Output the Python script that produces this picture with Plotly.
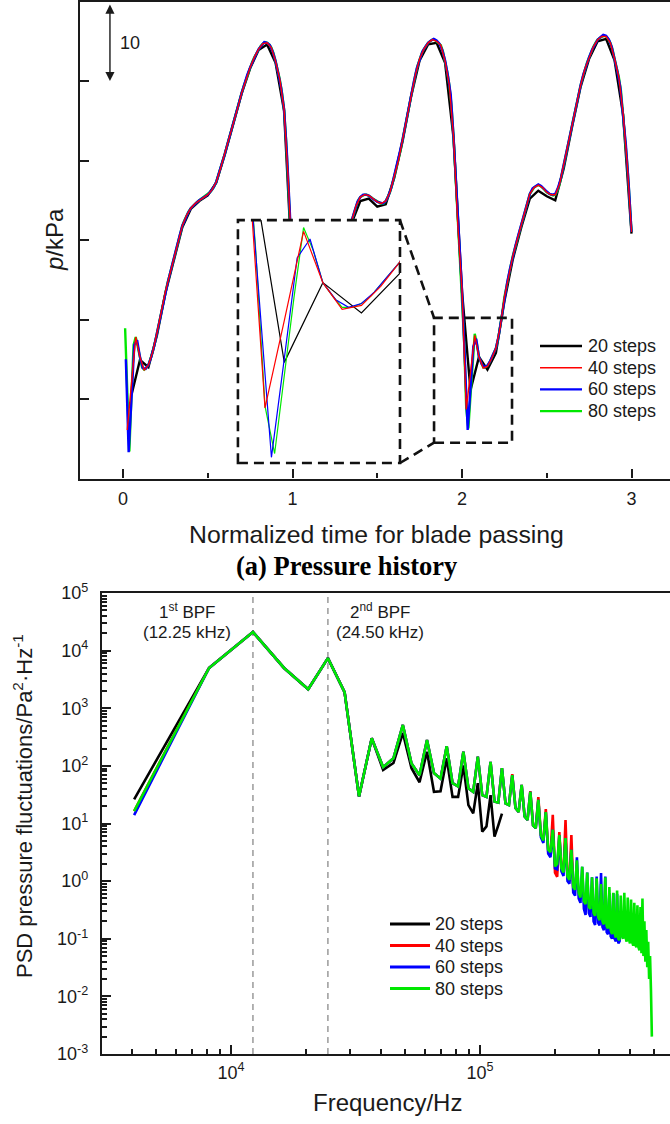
import plotly.graph_objects as go

# ------------------------------------------------------------------ data
SERIES = ["20 steps", "40 steps", "60 steps", "80 steps"]
STEPS = [20, 40, 60, 80]  # time steps per blade passing

# pressure history (kPa, relative level), sampled at k/steps, k = 1..3*steps
P_20 = [10.5, 14.9, 14.0, 18.0, 23.3, 27.6, 31.6, 33.9, 34.9, 35.6,
        37.2, 40.7, 44.4, 48.4, 51.6, 53.9, 54.6, 52.3, 46.3, 25.5,
        11.1, 15.3, 13.7, 15.8, 22.5, 28.2, 32.2, 34.9, 35.2, 34.2,
        34.5, 37.8, 42.5, 48.1, 52.6, 54.6, 54.8, 52.3, 42.8, 23.5,
        11.1, 15.3, 13.7, 15.8, 22.3, 27.6, 31.6, 35.2, 36.2, 35.5,
        35.0, 39.0, 44.3, 49.3, 52.8, 55.0, 55.3, 52.6, 45.8, 30.8]

P_40 = [6.1, 12.0, 17.8, 15.3, 13.6, 14.3, 15.9, 18.3, 21.0, 23.5,
        25.6, 27.8, 29.8, 31.8, 33.1, 34.0, 34.6, 35.0, 35.3, 35.7,
        36.3, 37.3, 39.0, 40.8, 42.8, 44.5, 46.5, 48.5, 50.2, 51.7,
        53.0, 54.0, 54.7, 54.8, 54.2, 52.5, 50.2, 46.5, 37.5, 26.0,
        8.7, 13.3, 18.0, 15.3, 13.9, 14.1, 15.1, 16.5, 19.2, 23.0,
        26.0, 28.5, 30.6, 32.5, 34.3, 35.4, 35.7, 35.6, 35.2, 34.8,
        34.6, 34.9, 36.0, 38.0, 40.0, 42.7, 45.5, 48.3, 50.8, 52.8,
        54.0, 54.8, 55.2, 55.0, 54.5, 52.5, 49.5, 43.0, 32.0, 23.7,
        8.7, 13.3, 18.0, 15.3, 13.9, 14.1, 15.1, 16.4, 19.0, 22.8,
        25.5, 28.0, 30.0, 32.0, 34.0, 35.8, 36.6, 36.9, 36.6, 36.0,
        35.7, 35.7, 37.0, 39.5, 42.0, 44.5, 47.0, 49.5, 51.5, 53.0,
        54.3, 55.2, 55.6, 55.6, 54.8, 52.8, 50.5, 46.0, 39.5, 31.0]

P_60 = [15.0, 3.3, 10.0, 16.8, 17.4, 15.3, 13.9, 13.8, 14.3, 15.3,
        16.6, 18.3, 20.1, 21.9, 23.5, 24.9, 26.3, 27.8, 29.1, 30.5,
        31.8, 32.7, 33.4, 34.0, 34.4, 34.7, 35.0, 35.2, 35.4, 35.7,
        36.1, 36.6, 37.3, 38.4, 39.6, 40.8, 42.1, 43.3, 44.5, 45.8,
        47.2, 48.5, 49.7, 50.8, 51.7, 52.6, 53.3, 54.0, 54.5, 54.9,
        54.8, 54.5, 53.7, 52.5, 50.9, 49.1, 46.5, 41.0, 34.0, 26.0,
        15.0, 6.1, 11.3, 16.6, 17.6, 15.3, 14.4, 14.0, 14.2, 14.8,
        15.7, 16.6, 18.2, 20.4, 23.0, 25.1, 26.9, 28.5, 29.9, 31.3,
        32.5, 33.7, 34.8, 35.4, 35.7, 35.7, 35.6, 35.3, 35.0, 34.8,
        34.7, 34.6, 34.9, 35.6, 36.6, 38.0, 39.4, 41.1, 42.7, 44.6,
        46.4, 48.3, 50.0, 51.6, 52.8, 53.7, 54.3, 54.8, 55.1, 55.3,
        55.1, 54.7, 53.9, 52.6, 50.7, 48.3, 43.0, 36.5, 29.0, 23.7,
        15.0, 6.1, 11.3, 16.6, 17.6, 15.3, 14.4, 14.0, 14.2, 14.8,
        15.6, 16.4, 18.0, 20.2, 22.8, 24.7, 26.4, 28.0, 29.4, 30.7,
        32.0, 33.3, 34.6, 35.8, 36.5, 36.8, 37.0, 36.8, 36.4, 36.1,
        35.8, 35.7, 35.8, 36.6, 37.8, 39.5, 41.2, 42.8, 44.5, 46.2,
        47.9, 49.5, 50.9, 52.1, 53.0, 53.9, 54.6, 55.2, 55.5, 55.8,
        55.7, 55.2, 54.3, 52.8, 51.2, 49.3, 46.0, 42.0, 37.0, 31.0]

P_80 = [18.9, 9.5, 3.4, 10.5, 16.8, 17.8, 16.5, 15.2, 14.0, 13.7,
        13.9, 14.3, 15.0, 15.9, 17.0, 18.3, 19.6, 21.0, 22.3, 23.5,
        24.6, 25.6, 26.7, 27.8, 28.8, 29.8, 30.8, 31.8, 32.5, 33.1,
        33.6, 34.0, 34.3, 34.6, 34.8, 35.0, 35.2, 35.3, 35.5, 35.7,
        36.0, 36.3, 36.7, 37.3, 38.1, 39.0, 39.9, 40.8, 41.8, 42.8,
        43.7, 44.5, 45.5, 46.5, 47.5, 48.5, 49.4, 50.2, 51.0, 51.7,
        52.4, 53.0, 53.5, 54.0, 54.4, 54.7, 54.9, 54.8, 54.6, 54.2,
        53.5, 52.5, 51.5, 50.2, 48.6, 46.5, 42.5, 37.5, 32.0, 26.0,
        17.5, 8.8, 6.3, 10.4, 14.5, 18.2, 17.2, 15.3, 14.6, 14.0,
        14.0, 14.2, 14.6, 15.2, 15.9, 16.6, 17.8, 19.2, 21.0, 23.0,
        24.6, 26.0, 27.3, 28.5, 29.6, 30.6, 31.6, 32.5, 33.4, 34.3,
        35.0, 35.4, 35.6, 35.7, 35.7, 35.6, 35.4, 35.2, 35.0, 34.8,
        34.7, 34.6, 34.6, 34.9, 35.4, 36.0, 36.9, 38.0, 39.0, 40.0,
        41.3, 42.7, 44.1, 45.5, 46.9, 48.3, 49.6, 50.8, 51.9, 52.8,
        53.5, 54.0, 54.4, 54.8, 55.0, 55.2, 55.2, 55.0, 54.8, 54.5,
        53.7, 52.5, 51.2, 49.5, 47.0, 43.0, 38.0, 32.0, 27.5, 23.7,
        17.3, 8.8, 6.3, 10.4, 14.5, 18.2, 17.0, 15.3, 14.6, 14.0,
        14.0, 14.2, 14.6, 15.2, 15.8, 16.4, 17.5, 19.0, 20.8, 22.8,
        24.3, 25.5, 26.8, 28.0, 29.0, 30.0, 31.0, 32.0, 33.0, 34.0,
        34.9, 35.8, 36.2, 36.6, 36.8, 36.9, 36.8, 36.6, 36.3, 36.0,
        35.8, 35.7, 35.6, 35.7, 36.2, 37.0, 38.1, 39.5, 40.7, 42.0,
        43.2, 44.5, 45.8, 47.0, 48.3, 49.5, 50.5, 51.5, 52.3, 53.0,
        53.7, 54.3, 54.8, 55.2, 55.4, 55.6, 55.7, 55.6, 55.3, 54.8,
        54.0, 52.8, 51.8, 50.5, 48.8, 46.0, 43.0, 39.5, 35.5, 31.0]

# PSD of pressure fluctuations (Pa^2/Hz), bins n*BPF/3, n = 1..N
BPF = 12250.0
BPF_LINES = [12250.0, 24500.0]
PSD_20 = [26.3, 5.0e3, 2.1e4, 5.0e3, 2.14e3, 7.4e3, 1.9e3, 29.5, 302, 85,
          112, 372, 91, 52, 176, 35.5, 36.3, 135, 29, 29,
          102, 20.9, 15.0, 50, 7.2, 8.9, 31, 5.9, 9.3, 14.8]
PSD_40 = [16.4, 5.0e3, 2.1e4, 5.0e3, 2.14e3, 7.4e3, 1.9e3, 29.5, 302, 95,
          135, 513, 110, 69, 282, 75, 60, 219, 50, 44,
          176, 41, 35.5, 145, 31, 29, 117, 24, 23, 91,
          22.4, 20.9, 72, 18.6, 15.8, 46.8, 13.2, 11.5, 36.5, 9.3,
          8.3, 28.8, 6.3, 5.1, 17.8, 3.3, 3.0, 14.1, 1.4, 1.19,
          7.1, 1.6, 1.4, 11.5, 1.1, 1.0, 6.3, 0.75, 0.7, 1.6]
PSD_60 = [14.0, 5.0e3, 2.1e4, 5.0e3, 2.14e3, 7.4e3, 1.9e3, 29.5, 302, 95,
          135, 513, 110, 69, 282, 75, 60, 219, 50, 44,
          176, 41, 35.5, 145, 31, 29, 117, 24, 23, 91,
          22.4, 20.9, 69, 18.6, 15.8, 46.8, 13.2, 11.5, 35.5, 9.3,
          8.3, 25.7, 5.8, 4.6, 15.8, 3.0, 2.6, 7.8, 1.66, 1.6,
          6.3, 1.48, 1.23, 5.6, 1.0, 0.9, 3.5, 0.63, 0.56, 2.6,
          0.5, 0.42, 1.78, 0.33, 0.26, 1.41, 0.28, 0.24, 1.17, 0.2,
          0.174, 1.2, 0.19, 0.17, 1.38, 0.16, 0.14, 1.2, 0.13, 0.12,
          0.62, 0.11, 0.1, 0.62, 0.1, 0.09, 0.6, 0.083, 0.09, 0.13]
PSD_80 = [16.4, 5.0e3, 2.1e4, 5.0e3, 2.14e3, 7.4e3, 1.9e3, 29.5, 302, 95,
          135, 513, 110, 69, 282, 75, 60, 219, 50, 44,
          176, 41, 35.5, 145, 31, 29, 117, 24, 23, 91,
          22.4, 20.9, 69, 18.6, 15.8, 46.8, 13.2, 11.5, 35.5, 9.3,
          8.3, 25.7, 6.3, 5.1, 15.8, 3.5, 3.2, 7.8, 1.8, 2.0,
          6.3, 1.66, 1.41, 5.6, 1.2, 1.05, 3.5, 0.79, 0.71, 2.3,
          0.63, 0.52, 1.78, 0.45, 0.40, 1.41, 0.355, 0.33, 1.17, 0.28,
          0.25, 1.12, 0.24, 0.21, 0.89, 0.20, 0.178, 1.17, 0.166, 0.151,
          0.79, 0.141, 0.12, 0.63, 0.126, 0.105, 0.69, 0.10, 0.095, 0.56,
          0.112, 0.10, 0.63, 0.107, 0.089, 0.52, 0.10, 0.083, 0.48, 0.089,
          0.076, 0.42, 0.079, 0.071, 0.38, 0.071, 0.063, 0.355, 0.056, 0.50,
          0.05, 0.20, 0.04, 0.141, 0.032, 0.089, 0.02, 0.05, 0.0126, 0.002]

P_TICKS = [10, 20, 30, 40, 50]
T_TICKS = [0, 1, 2, 3]
LOG_Y_TICKS = [-3, -2, -1, 0, 1, 2, 3, 4, 5]
LOG_X_TICKS = [4, 5]

# ------------------------------------------------------------------ style
W, H = 670, 1124
SANS = "Liberation Sans"
SERIF = "Liberation Serif"
INK = "#1a1a1a"
COLORS = ["#000000", "#ff0000", "#0000ff", "#00e800"]
TOP_WIDTH = [2.4, 1.4, 2.4, 2.4]
PSD_WIDTH = 2.6
DRAW_ORDER_TOP = [0, 3, 2, 1]
DRAW_ORDER_PSD = [0, 1, 2, 3]


def fx(p):
    return p / W


def fy(p):
    return 1 - p / H


pressure = [P_20, P_40, P_60, P_80]
psd = [PSD_20, PSD_40, PSD_60, PSD_80]

fig = go.Figure()

for i in DRAW_ORDER_TOP:
    t = [k / STEPS[i] for k in range(1, len(pressure[i]) + 1)]
    fig.add_trace(go.Scatter(x=t, y=pressure[i], mode="lines", name=SERIES[i],
                             line=dict(color=COLORS[i], width=TOP_WIDTH[i]),
                             xaxis="x", yaxis="y", showlegend=False))
for i in DRAW_ORDER_TOP:
    t = [k / STEPS[i] for k in range(1, len(pressure[i]) + 1)]
    fig.add_trace(go.Scatter(x=t, y=pressure[i], mode="lines", name=SERIES[i],
                             line=dict(color=COLORS[i], width=1.2),
                             xaxis="x2", yaxis="y2", showlegend=False))
for i in DRAW_ORDER_PSD:
    f = [n * BPF / 3 for n in range(1, len(psd[i]) + 1)]
    fig.add_trace(go.Scatter(x=f, y=psd[i], mode="lines", name=SERIES[i],
                             line=dict(color=COLORS[i], width=PSD_WIDTH),
                             xaxis="x3", yaxis="y3", showlegend=False))

axis_common = dict(showgrid=False, zeroline=False, showline=True,
                   linecolor=INK, linewidth=2.4, ticks="inside",
                   tickcolor=INK, tickwidth=2, ticklen=9, automargin=False,
                   tickfont=dict(family=SANS, size=18, color=INK))

fig.update_layout(
    template="none",
    xaxis=dict(domain=[fx(80), 1], range=[-0.2537, 3.227], anchor="y",
               tickmode="array", tickvals=T_TICKS, mirror=True,
               ticklabelstandoff=3,
               minor=dict(dtick=0.5, tick0=0, ticks="inside", ticklen=5,
                          tickcolor=INK, tickwidth=2, showgrid=False),
               **axis_common),
    yaxis=dict(domain=[fy(478.5), fy(1.5)], range=[0, 60], anchor="x",
               tickmode="array", tickvals=P_TICKS, showticklabels=False,
               **axis_common),
    xaxis2=dict(domain=[fx(238), fx(400)], range=[1.99, 2.2], anchor="y2",
                visible=False, automargin=False),
    yaxis2=dict(domain=[fy(463), fy(220)], range=[5.8, 18.6], anchor="x2",
                visible=False, automargin=False),
    xaxis3=dict(domain=[fx(102), 1], type="log", range=[3.482, 5.763],
                anchor="y3", mirror=True, tickmode="array",
                tickvals=[10 ** v for v in LOG_X_TICKS],
                ticktext=["10<sup>%d</sup>" % v for v in LOG_X_TICKS],
                ticklabelstandoff=1,
                minor=dict(dtick="D1", ticks="inside", ticklen=5,
                           tickcolor=INK, tickwidth=1.5, showgrid=False),
                **axis_common),
    yaxis3=dict(domain=[fy(1054), fy(593)], type="log", range=[-3, 5],
                anchor="x3", tickmode="array",
                tickvals=[10 ** v for v in LOG_Y_TICKS],
                ticktext=["10<sup>%d</sup>" % v for v in LOG_Y_TICKS],
                ticklabelstandoff=8,
                minor=dict(dtick="D1", ticks="inside", ticklen=5,
                           tickcolor=INK, tickwidth=1.5, showgrid=False),
                **axis_common),
)

fig.update_layout(
    width=W, height=H,
    margin=dict(l=0, r=0, t=0, b=0, autoexpand=False),
    paper_bgcolor="white", plot_bgcolor="white", showlegend=False,
    font=dict(family=SANS, size=18, color=INK),
)

# zoom box, inset frame and connectors (main pressure data coords)
ZOOM_BOX = dict(x0=1.835, x1=2.295, y0=4.5, y1=20.2)
INSET_FRAME = dict(x0=0.678, x1=1.634, y0=1.95, y1=32.5)
dash_line = dict(color="#111111", width=2.6, dash="10px,6px")
shapes = [
    dict(type="rect", xref="x", yref="y", layer="above", line=dash_line,
         **ZOOM_BOX),
    dict(type="rect", xref="x", yref="y", layer="above", line=dash_line,
         **INSET_FRAME),
    dict(type="line", xref="x", yref="y", layer="above", line=dash_line,
         x0=INSET_FRAME["x1"], y0=INSET_FRAME["y1"],
         x1=ZOOM_BOX["x0"], y1=ZOOM_BOX["y1"]),
    dict(type="line", xref="x", yref="y", layer="above", line=dash_line,
         x0=INSET_FRAME["x1"], y0=INSET_FRAME["y0"],
         x1=ZOOM_BOX["x0"], y1=ZOOM_BOX["y0"]),
]
for fv in BPF_LINES:
    shapes.append(dict(type="line", xref="x3", yref="y3 domain", layer="below",
                       x0=fv, x1=fv, y0=0, y1=1,
                       line=dict(color="#9a9a9a", width=1.5, dash="6px,5px")))

ann = []
# legends (line sample + label), one per panel
LEGEND_TOP = dict(x0=540, x1=582, xt=586, y0=346, dy=21.7)
LEGEND_PSD = dict(x0=390, x1=430, xt=433, y0=924, dy=21.5)
for lg, widths in [(LEGEND_TOP, TOP_WIDTH), (LEGEND_PSD, [3.0] * 4)]:
    for i, name in enumerate(SERIES):
        yy = lg["y0"] + i * lg["dy"]
        shapes.append(dict(type="line", xref="paper", yref="paper",
                           x0=fx(lg["x0"]), x1=fx(lg["x1"]), y0=fy(yy), y1=fy(yy),
                           line=dict(color=COLORS[i], width=widths[i])))
        ann.append(dict(xref="paper", yref="paper", x=fx(lg["xt"]), y=fy(yy),
                        xanchor="left", yanchor="middle", text=name,
                        showarrow=False,
                        font=dict(family=SANS, size=18, color=INK)))
fig.update_layout(shapes=shapes)

# scale arrow (10 kPa)
ann.append(dict(xref="x", yref="y", axref="x", ayref="y",
                x=-0.077, y=50, ax=-0.077, ay=59.8, text="",
                showarrow=True, arrowhead=2, arrowside="end+start",
                arrowsize=1.3, arrowwidth=1.4, arrowcolor=INK, standoff=0,
                startstandoff=0))
ann.append(dict(xref="x", yref="y", x=0.04, y=54.8, text="10",
                xanchor="center", yanchor="middle",
                showarrow=False, font=dict(family=SANS, size=18, color=INK)))


def label(x, y, text, size=24, family=SANS, angle=0, color=INK):
    ann.append(dict(xref="paper", yref="paper", x=fx(x), y=fy(y),
                    xanchor="center", yanchor="middle", text=text,
                    textangle=angle, showarrow=False,
                    font=dict(family=family, size=size, color=color)))


label(55, 240, "<i>p</i>/kPa", angle=-90)
label(376, 534, "Normalized time for blade passing", size=24.8)
label(346, 566, "<b>(a) Pressure history</b>", size=26.5, family=SERIF,
      color="#000000")
label(387, 1102, "Frequency/Hz")
label(23, 806, "PSD pressure fluctuations/Pa<sup>2</sup>·Hz<sup>-1</sup>",
      size=22, angle=-90)
for xc, l1, l2 in [(187, "1<sup>st</sup> BPF", "(12.25 kHz)"),
                   (380, "2<sup>nd</sup> BPF", "(24.50 kHz)")]:
    label(xc, 611, l1, size=17)
    label(xc, 632, l2, size=17)
fig.update_layout(annotations=ann)

fig.write_html("out.html")
